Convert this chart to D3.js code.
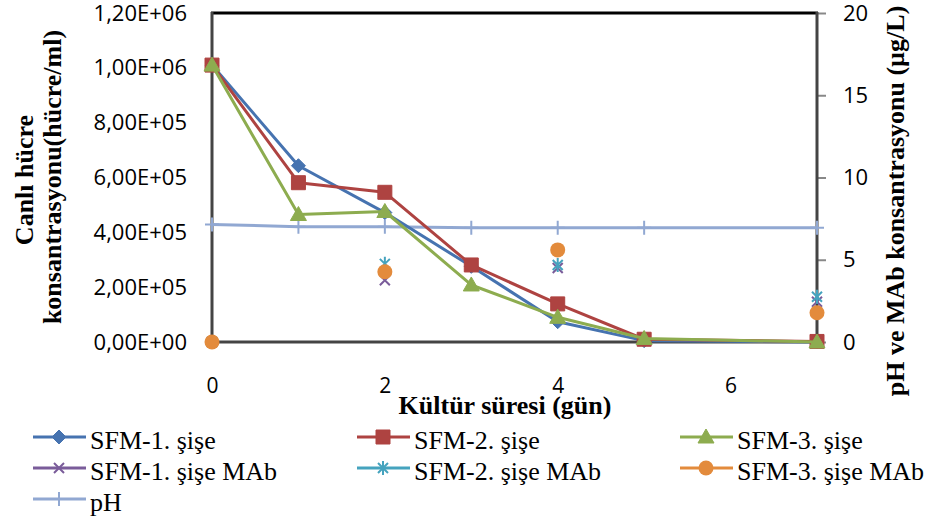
<!DOCTYPE html>
<html>
<head>
<meta charset="utf-8">
<script src="https://cdn.jsdelivr.net/npm/d3@7"></script>
<style>
  body { margin: 0; background: #fff; }
  svg { display: block; }
</style>
</head>
<body>
<div id="chart"></div>
<script>
// days of culture
const days = [0, 1, 2, 3, 4, 5, 7];
// viable cell concentration (cells/ml), left axis
const sfm1 = [1.01e6, 6.43e5, 4.72e5, 2.76e5, 7.4e4, 5e3, 0];
const sfm2 = [1.01e6, 5.81e5, 5.46e5, 2.81e5, 1.39e5, 1.0e4, 2e3];
const sfm3 = [1.01e6, 4.65e5, 4.76e5, 2.08e5, 9.0e4, 1.3e4, 0];
// MAb concentration (µg/L), right axis
const mabDays = [0, 2, 4, 7];
const mab1 = [0, 3.75, 4.5, 2.45];
const mab2 = [0, 4.75, 4.68, 2.75];
const mab3 = [0, 4.27, 5.6, 1.78];
// pH, right axis
const ph = [7.15, 7.01, 7.01, 6.95, 6.95, 6.95, 6.95];

const leftTicks = [0, 2e5, 4e5, 6e5, 8e5, 1e6, 1.2e6];
const rightTicks = [0, 5, 10, 15, 20];
const xTicks = [0, 2, 4, 6];

const width = 942, height = 519;

const svg = d3.select("#chart")
  .append("svg")
  .attr("width", width)
  .attr("height", height);

svg.append("rect").attr("width", width).attr("height", height).attr("fill", "#fff");

const x = d3.scaleLinear().domain([0, 7]).range([212, 817]);
const yL = d3.scaleLinear().domain([0, 1.2e6]).range([342, 13]);
const yR = d3.scaleLinear().domain([0, 20]).range([342, 13]);

// Excel style "1,20E+06"
function sci(d) {
  if (d === 0) return "0,00E+00";
  const e = Math.floor(Math.log10(d));
  const m = d / Math.pow(10, e);
  return m.toFixed(2).replace(".", ",") + "E+" + String(e).padStart(2, "0");
}

const tickFont = "'Open Sans', sans-serif";

// left axis
const gL = svg.append("g")
  .attr("transform", "translate(212,0)")
  .call(d3.axisLeft(yL).tickValues(leftTicks).tickFormat(sci).tickSize(0).tickPadding(25));
gL.select(".domain").remove();
gL.selectAll("text").attr("font-family", tickFont).attr("font-size", 22).attr("fill", "#000");

// right axis
const gR = svg.append("g")
  .attr("transform", "translate(817,0)")
  .call(d3.axisRight(yR).tickValues(rightTicks).tickFormat(d3.format("d")).tickSize(9).tickPadding(17));
gR.select(".domain").remove();
gR.selectAll("line").attr("stroke", "#888").attr("stroke-width", 2);
gR.selectAll("text").attr("font-family", tickFont).attr("font-size", 22).attr("fill", "#000");

// bottom axis
const gX = svg.append("g")
  .attr("transform", "translate(0,342)")
  .call(d3.axisBottom(x).tickValues(xTicks).tickFormat(d3.format("d")).tickSize(0).tickPadding(36));
gX.select(".domain").remove();
gX.selectAll("text").attr("font-family", tickFont).attr("font-size", 21).attr("fill", "#000");

// plot frame
svg.append("line").attr("x1", 211).attr("x2", 818).attr("y1", 13).attr("y2", 13)
  .attr("stroke", "#000").attr("stroke-width", 3);
svg.append("line").attr("x1", 212).attr("x2", 212).attr("y1", 12).attr("y2", 343)
  .attr("stroke", "#444").attr("stroke-width", 3);
svg.append("line").attr("x1", 817).attr("x2", 817).attr("y1", 12).attr("y2", 343)
  .attr("stroke", "#444").attr("stroke-width", 3);
svg.append("line").attr("x1", 211).attr("x2", 818).attr("y1", 342).attr("y2", 342)
  .attr("stroke", "#444").attr("stroke-width", 3);

// marker shapes
const shapes = {
  diamond: "M0,-7L7,0L0,7L-7,0Z",
  square: "M-7,-7H7V7H-7Z",
  triangle: "M0,-8L8,6L-8,6Z",
  times: "M-5,-5L5,5M-5,5L5,-5",
  star: "M-5,-5L5,5M-5,5L5,-5M0,-7L0,7",
  plus: "M-7,0L7,0M0,-7L0,7"
};

function marker(g, type, color, cx, cy) {
  if (type === "circle") {
    g.append("circle").attr("cx", cx).attr("cy", cy).attr("r", 7.5).attr("fill", color);
    return;
  }
  const open = type === "times" || type === "star" || type === "plus";
  g.append("path")
    .attr("d", shapes[type])
    .attr("transform", `translate(${cx},${cy})`)
    .attr("fill", open ? "none" : color)
    .attr("stroke", color)
    .attr("stroke-width", open ? 2 : 1);
}

const colors = {
  s1: "#4673B0", s2: "#AE4341", s3: "#8DAC4F",
  m1: "#7A5C9A", m2: "#45A3BE", m3: "#E38B3C", ph: "#91A8D2"
};

const plot = svg.append("g");

// pH line
const phLine = d3.line().x((d, i) => x(days[i])).y(d => yR(d));
plot.append("path").datum(ph).attr("d", phLine)
  .attr("fill", "none").attr("stroke", colors.ph).attr("stroke-width", 3);
ph.forEach((d, i) => marker(plot, "plus", colors.ph, x(days[i]), yR(d)));

// cell lines
const cellSeries = [
  { data: sfm1, color: colors.s1, type: "diamond" },
  { data: sfm2, color: colors.s2, type: "square" },
  { data: sfm3, color: colors.s3, type: "triangle" }
];
const cellLine = d3.line().x((d, i) => x(days[i])).y(d => yL(d));
cellSeries.forEach(s => {
  plot.append("path").datum(s.data).attr("d", cellLine)
    .attr("fill", "none").attr("stroke", s.color).attr("stroke-width", 3)
    .attr("stroke-linejoin", "round");
  s.data.forEach((d, i) => marker(plot, s.type, s.color, x(days[i]), yL(d)));
});

// MAb points (markers only)
const mabSeries = [
  { data: mab1, color: colors.m1, type: "times" },
  { data: mab2, color: colors.m2, type: "star" },
  { data: mab3, color: colors.m3, type: "circle" }
];
mabSeries.forEach(s => {
  s.data.forEach((d, i) => marker(plot, s.type, s.color, x(mabDays[i]), yR(d)));
});

// axis titles
const titleFont = "'Liberation Serif', 'Times New Roman', serif";
svg.append("text").attr("transform", "translate(33,180) rotate(-90)")
  .attr("text-anchor", "middle").attr("font-family", titleFont).attr("font-weight", "bold")
  .attr("font-size", 26).text("Canlı hücre");
svg.append("text").attr("transform", "translate(61,177) rotate(-90)")
  .attr("text-anchor", "middle").attr("font-family", titleFont).attr("font-weight", "bold")
  .attr("font-size", 26).text("konsantrasyonu(hücre/ml)");
svg.append("text").attr("transform", "translate(904,201) rotate(-90)")
  .attr("text-anchor", "middle").attr("font-family", titleFont).attr("font-weight", "bold")
  .attr("font-size", 26).text("pH ve MAb konsantrasyonu (µg/L)");
svg.append("text").attr("x", 505).attr("y", 414)
  .attr("text-anchor", "middle").attr("font-family", titleFont).attr("font-weight", "bold")
  .attr("font-size", 26).text("Kültür süresi (gün)");

// legend
const legendItems = [
  { name: "SFM-1. şişe", color: colors.s1, type: "diamond" },
  { name: "SFM-2. şişe", color: colors.s2, type: "square" },
  { name: "SFM-3. şişe", color: colors.s3, type: "triangle" },
  { name: "SFM-1. şişe MAb", color: colors.m1, type: "times" },
  { name: "SFM-2. şişe MAb", color: colors.m2, type: "star" },
  { name: "SFM-3. şişe MAb", color: colors.m3, type: "circle" },
  { name: "pH", color: colors.ph, type: "plus" }
];
const colX = [33, 357, 680];
const rowY = [437, 468, 499];
const legend = svg.append("g");
legendItems.forEach((item, i) => {
  const lx = colX[i % 3], ly = rowY[Math.floor(i / 3)];
  legend.append("line").attr("x1", lx).attr("x2", lx + 53).attr("y1", ly).attr("y2", ly)
    .attr("stroke", item.color).attr("stroke-width", 3);
  marker(legend, item.type, item.color, lx + 26, ly);
  legend.append("text").attr("x", lx + 57).attr("y", ly + 12)
    .attr("font-family", titleFont).attr("font-size", 26).text(item.name);
});
</script>
</body>
</html>
